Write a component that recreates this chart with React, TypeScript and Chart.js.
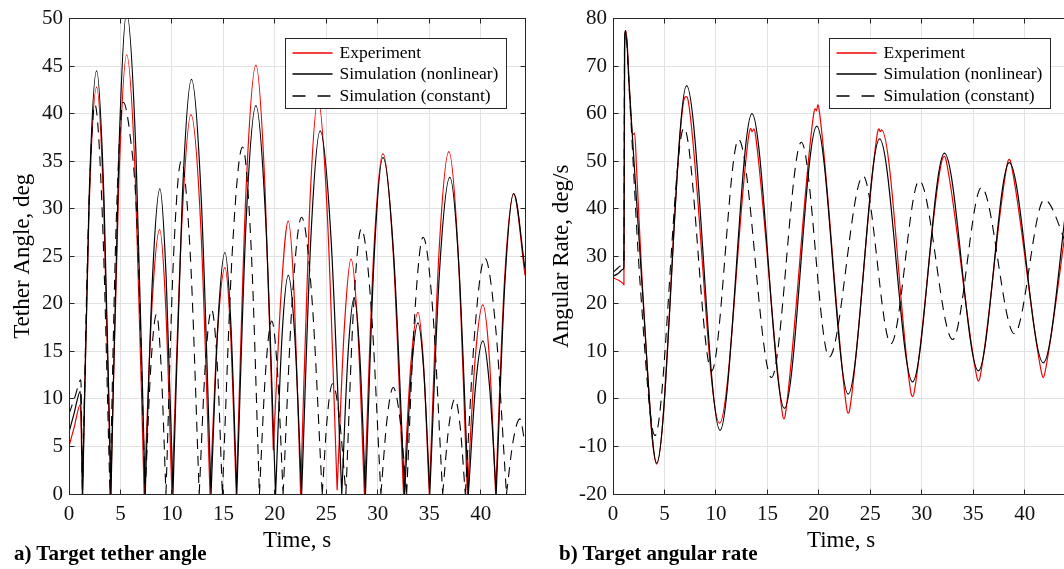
import React, { useEffect, useRef } from "react";
import { Chart, registerables } from "chart.js";

Chart.register(...registerables);

const SERIF = "'Liberation Serif', 'Times New Roman', Times, serif";
const INK = "#262626";
const GRID = "#e2e2e2";
const RED = "#f00000";

// ---------- shared axis ----------
const timeTicks = [0, 5, 10, 15, 20, 25, 30, 35, 40];
const timeMax = 44.3;
const angleTicks = [0, 5, 10, 15, 20, 25, 30, 35, 40, 45, 50];
const rateTicks = [-20, -10, 0, 10, 20, 30, 40, 50, 60, 70, 80];
const seriesLabels = ["Experiment", "Simulation (nonlinear)", "Simulation (constant)"];

// ---------- a) tether angle (null = break between arcs) ----------
const angleExpT = [
  0, 0.5, 1.1, 1.3, 1.3,
  1.3, 1.95, 2.68, 3.38, 4.05, 4.05,
  4.05, 4.85, 5.6, 6.45, 7.3, 7.3,
  7.3, 8.05, 8.8, 9.4, 10.0, 10.0,
  10.0, 10.95, 11.85, 12.8, 13.7, 13.7,
  13.7, 14.42, 15.15, 15.7, 16.25, 16.25,
  16.25, 17.2, 18.16, 19.05, 19.85, 19.85,
  19.85, 20.6, 21.3, 21.9, 22.5, 22.5,
  22.5, 23.35, 24.2, 25.1, 26.05, 26.05,
  26.05, 26.75, 27.4, 28.05, 28.7, 28.7,
  28.7, 29.6, 30.5, 31.5, 32.5, 32.5,
  32.5, 33.2, 33.9, 34.45, 35.0, 35.0,
  35.0, 35.95, 36.9, 37.8, 38.7, 38.7,
  38.7, 39.45, 40.2, 40.85, 41.45, 41.45,
  41.45, 42.3, 43.2, 44.3,
];
const angleExpV = [
  5.0, 7.0, 9.4, 0, null,
  0, 30, 42.8, 30, 0, null,
  0, 33, 46.2, 33, 0, null,
  0, 19.6, 27.8, 19.6, 0, null,
  0, 28.2, 39.9, 28.2, 0, null,
  0, 16.8, 23.8, 16.8, 0, null,
  0, 32, 45.1, 32, 4.6, null,
  4.6, 21, 28.7, 20.3, 0, null,
  0, 29.3, 41.5, 29.3, 0.4, null,
  0.4, 17.5, 24.7, 17.5, 0, null,
  0, 25.3, 35.8, 25.3, 0, null,
  0, 13.5, 19.1, 13.5, 0, null,
  0, 25.5, 36.0, 25.5, 0, null,
  0, 14.1, 19.9, 14.1, 0, null,
  0, 22.3, 31.6, 23.0,
];

const angleNonT = [
  0, 0.5, 1.1, 1.33, 1.33,
  1.33, 1.95, 2.68, 3.4, 4.08, 4.08,
  4.08, 4.85, 5.6, 6.5, 7.4, 7.4,
  7.4, 8.1, 8.83, 9.45, 10.1, 10.1,
  10.1, 11.0, 11.9, 12.85, 13.8, 13.8,
  13.8, 14.47, 15.15, 15.72, 16.3, 16.3,
  16.3, 17.22, 18.16, 19.1, 20.07, 20.07,
  20.07, 20.68, 21.3, 21.95, 22.6, 22.6,
  22.6, 23.5, 24.4, 25.45, 26.5, 26.5,
  26.5, 27.1, 27.7, 28.25, 28.8, 28.8,
  28.8, 29.65, 30.5, 31.55, 32.6, 32.6,
  32.6, 33.25, 33.9, 34.48, 35.05, 35.05,
  35.05, 36.0, 37.0, 37.9, 38.8, 38.8,
  38.8, 39.5, 40.2, 40.85, 41.5, 41.5,
  41.5, 42.35, 43.2, 44.3,
];
const angleNonV = [
  6.5, 8.5, 10.8, 0, null,
  0, 31, 44.5, 31, 0, null,
  0, 36, 50.6, 36, 0, null,
  0, 22.5, 32.1, 22.5, 0, null,
  0, 31, 43.6, 31, 0, null,
  0, 18, 25.4, 18, 0, null,
  0, 29, 40.85, 29, 0, null,
  0, 16.3, 23.0, 16.3, 0, null,
  0, 27, 38.2, 27, 0, null,
  0, 14.6, 20.6, 14.6, 0, null,
  0, 25, 35.4, 25, 0, null,
  0, 12.7, 18.0, 12.7, 0, null,
  0, 23.5, 33.3, 23.5, 0, null,
  0, 11.4, 16.1, 11.4, 0, null,
  0, 22.3, 31.6, 23.7,
];

const angleConT = [
  0, 0.6, 1.15, 1.3, 1.3,
  1.3, 1.9, 2.52, 3.25, 3.98, 3.98,
  3.98, 4.6, 5.27, 5.9, 6.57, 7.4, 7.4,
  7.4, 7.95, 8.5, 8.95, 9.42, 9.42,
  9.42, 10.15, 10.9, 11.8, 12.65, 12.65,
  12.65, 13.25, 13.85, 14.4, 14.9, 14.9,
  14.9, 15.88, 16.86, 17.7, 18.5, 18.5,
  18.5, 19.1, 19.7, 20.25, 20.8, 20.8,
  20.8, 21.7, 22.6, 23.6, 24.6, 24.6,
  24.6, 25.1, 25.6, 26.25, 26.9, 26.9,
  26.9, 27.65, 28.4, 29.35, 30.3, 30.3,
  30.3, 30.9, 31.5, 32.15, 32.8, 32.8,
  32.8, 33.6, 34.4, 35.35, 36.3, 36.3,
  36.3, 36.9, 37.5, 38.0, 38.5, 38.5,
  38.5, 39.45, 40.4, 41.45, 42.5, 42.5,
  42.5, 43.15, 43.8, 44.3,
];
const angleConV = [
  8.4, 10.3, 12.0, 0, null,
  0, 29, 40.95, 29, 0, null,
  0, 29, 41.2, 38, 29.3, 0, null,
  0, 13.4, 18.9, 13.4, 0, null,
  0, 24.8, 35.0, 24.8, 0, null,
  0, 13.7, 19.4, 13.7, 0, null,
  0, 25.8, 36.5, 25.8, 0, null,
  0, 12.9, 18.2, 12.9, 0, null,
  0, 20.6, 29.1, 20.6, 0, null,
  0, 8.2, 11.6, 8.2, 0, null,
  0, 19.7, 27.9, 19.7, 0, null,
  0, 7.9, 11.2, 7.9, 0, null,
  0, 19.1, 27.0, 19.1, 0, null,
  0, 7.1, 10.0, 7.1, 0, null,
  0, 17.5, 24.8, 17.5, 0, null,
  0, 5.6, 7.9, 5.3,
];

// ---------- b) angular rate ----------
const rateExpT = [
  0, 0.5, 1.0, 1.06, 1.14, 1.28, 1.6, 1.92, 2.1, 2.3, 2.85, 4.24,
  6.9, 7.1, 7.3, 10.35,
  13.2, 13.38, 13.5, 13.7, 13.85, 16.45, 16.6, 16.75,
  19.5, 19.65, 19.78, 19.9, 20.05, 22.7, 22.85, 23.0,
  25.7, 25.85, 25.95, 26.1, 28.95, 29.1, 29.25,
  32.0, 32.2, 32.35, 35.35, 35.5, 35.65,
  38.35, 38.5, 38.65, 41.65, 41.8, 41.95, 44.3,
];
const rateExpV = [
  25.5, 25.0, 24.2, 24.0, 74, 77.3, 65, 55.6, 55.9, 48, 24, -13.7,
  63.0, 63.6, 62.8, -5.1,
  55.6, 56.9, 56.2, 56.8, 55.4, -3.0, -4.2, -3.2,
  60.0, 61.0, 60.6, 61.9, 60.5, -2.0, -3.0, -2.2,
  56.1, 56.8, 56.2, 56.6, 1.2, 0.5, 1.3,
  50.5, 51.0, 50.3, 4.6, 3.8, 4.5,
  49.9, 50.4, 49.7, 5.3, 4.5, 5.4, 41,
];

const rateNonT = [0, 0.5, 1.0, 1.06, 1.12, 1.22, 1.6, 2.8, 4.24, 7.15, 10.4, 13.5, 16.65, 19.8, 22.85, 25.9, 29.1, 32.2, 35.5, 38.5, 41.8, 44.3];
const rateNonV = [25.8, 26.4, 27.3, 27.8, 74, 77.5, 65, 24.7, -13.5, 65.9, -6.6, 60.0, -2.0, 57.4, 1.0, 54.7, 3.6, 51.7, 5.9, 49.7, 7.6, 45];

const rateConT = [0, 0.5, 1.0, 1.06, 1.12, 1.22, 1.6, 2.62, 4.08, 6.9, 9.58, 12.2, 15.4, 18.3, 21.0, 24.3, 27.0, 29.75, 33.0, 35.8, 39.0, 41.9, 43.7, 44.3];
const rateConV = [26.6, 27.6, 28.3, 28.5, 74, 77.5, 64, 24.7, -7.7, 57.0, 5.9, 54.6, 4.5, 54.0, 8.8, 46.9, 11.6, 45.9, 12.5, 44.5, 13.7, 41.9, 34.4, 30];

// ---------- styles ----------
const seriesStyles = [
  { color: RED, width: 1.2, dash: [] as number[] },
  { color: "#000000", width: 1.2, dash: [] as number[] },
  { color: "#000000", width: 1.1, dash: [10, 7] },
];

const toPoints = (t: number[], v: (number | null)[]) => t.map((x, i) => ({ x, y: v[i] }));

const alignPx = (p: number) => Math.round(p - 0.5) + 0.5;

const boxPlugin = {
  id: "matlabBox",
  afterDatasetsDraw(chart: any, _args: any, opts: any) {
    const { ctx, chartArea: a, scales } = chart;
    const L = alignPx(a.left);
    const R = alignPx(a.right);
    const T = alignPx(a.top);
    const B = alignPx(a.bottom);
    ctx.save();
    ctx.setLineDash([]);
    ctx.strokeStyle = INK;
    ctx.lineWidth = 1;
    ctx.strokeRect(L, T, R - L, B - T);
    const tl = 5;
    ctx.beginPath();
    scales.x.ticks.forEach((tk: any) => {
      const x = alignPx(scales.x.getPixelForValue(tk.value));
      ctx.moveTo(x, B);
      ctx.lineTo(x, B - tl);
      ctx.moveTo(x, T);
      ctx.lineTo(x, T + tl);
    });
    scales.y.ticks.forEach((tk: any) => {
      const y = alignPx(scales.y.getPixelForValue(tk.value));
      ctx.moveTo(L, y);
      ctx.lineTo(L + tl, y);
      ctx.moveTo(R, y);
      ctx.lineTo(R - tl, y);
    });
    ctx.stroke();

    // legend box (inside the axes, north-east)
    const bx = Math.round(a.left + opts.legendX) + 0.5;
    const by = Math.round(a.top + opts.legendY) + 0.5;
    const bw = opts.legendW;
    const bh = opts.legendH;
    ctx.fillStyle = "#ffffff";
    ctx.fillRect(bx, by, bw, bh);
    ctx.strokeStyle = INK;
    ctx.lineWidth = 1;
    ctx.strokeRect(bx, by, bw, bh);
    ctx.font = `17.5px ${SERIF}`;
    ctx.textBaseline = "middle";
    ctx.textAlign = "left";
    const rows = [14, 35.5, 57];
    seriesLabels.forEach((label, i) => {
      const st = seriesStyles[i];
      const y = Math.round(by + rows[i]);
      ctx.save();
      ctx.strokeStyle = st.color;
      ctx.lineWidth = 1.4;
      ctx.setLineDash(i === 2 ? [13, 12] : []);
      ctx.beginPath();
      ctx.moveTo(bx + 7, y);
      ctx.lineTo(bx + 47, y);
      ctx.stroke();
      ctx.restore();
      ctx.fillStyle = "#000000";
      ctx.fillText(label, bx + 54, y + 0.5);
    });
    ctx.restore();
  },
};

type PanelSpec = {
  left: number;
  width: number;
  yAxisWidth: number;
  padRight: number;
  yMin: number;
  yMax: number;
  yTicks: number[];
  yTitle: string;
  yTitlePad: number;
  series: { t: number[]; v: (number | null)[] }[];
};

function buildConfig(p: PanelSpec): any {
  const tickFont = { family: SERIF, size: 21 };
  const titleFont = { family: SERIF, size: 23 };
  const datasets = [2, 1, 0].map((i) => ({
    label: seriesLabels[i],
    data: toPoints(p.series[i].t, p.series[i].v),
    borderColor: seriesStyles[i].color,
    borderWidth: seriesStyles[i].width,
    borderDash: seriesStyles[i].dash,
    pointRadius: 0,
    fill: false,
    spanGaps: false,
    cubicInterpolationMode: "monotone",
  }));
  return {
    type: "line",
    data: { datasets },
    options: {
      animation: false,
      responsive: false,
      maintainAspectRatio: false,
      devicePixelRatio: 1,
      events: [],
      layout: { padding: { left: 0, right: p.padRight, top: 15, bottom: 0 } },
      plugins: {
        legend: { display: false },
        tooltip: { enabled: false },
        matlabBox: { legendX: 216, legendY: 19, legendW: 221, legendH: 70 },
      },
      scales: {
        x: {
          type: "linear",
          min: 0,
          max: timeMax,
          afterBuildTicks: (s: any) => {
            s.ticks = timeTicks.map((value) => ({ value }));
          },
          afterFit: (s: any) => {
            s.height = 75;
          },
          grid: { color: GRID, lineWidth: 1, drawTicks: false },
          border: { display: false },
          ticks: {
            padding: 8,
            font: tickFont,
            color: "#111111",
            maxRotation: 0,
            autoSkip: false,
            callback: (v: any) => String(v),
          },
          title: {
            display: true,
            text: "Time, s",
            font: titleFont,
            color: "#000000",
            padding: { top: 0, bottom: 14 },
          },
        },
        y: {
          type: "linear",
          min: p.yMin,
          max: p.yMax,
          afterBuildTicks: (s: any) => {
            s.ticks = p.yTicks.map((value) => ({ value }));
          },
          afterFit: (s: any) => {
            s.width = p.yAxisWidth;
          },
          grid: { color: GRID, lineWidth: 1, drawTicks: false },
          border: { display: false },
          ticks: {
            padding: 6,
            font: tickFont,
            color: "#111111",
            autoSkip: false,
            callback: (v: any) => String(v),
          },
          title: {
            display: true,
            text: p.yTitle,
            font: titleFont,
            color: "#000000",
            padding: { top: p.yTitlePad, bottom: 0 },
          },
        },
      },
    },
    plugins: [boxPlugin],
  };
}

function PanelChart({ spec }: { spec: PanelSpec }) {
  const ref = useRef<HTMLCanvasElement | null>(null);
  useEffect(() => {
    if (!ref.current) return;
    const chart = new Chart(ref.current, buildConfig(spec));
    return () => chart.destroy();
  }, [spec]);
  return (
    <canvas
      ref={ref}
      width={spec.width}
      height={569}
      style={{ position: "absolute", left: spec.left, top: 0, width: spec.width, height: 569 }}
    />
  );
}

const anglePanel: PanelSpec = {
  left: 0,
  width: 545,
  yAxisWidth: 69,
  padRight: 20,
  yMin: 0,
  yMax: 50,
  yTicks: angleTicks,
  yTitle: "Tether Angle, deg",
  yTitlePad: 9,
  series: [
    { t: angleExpT, v: angleExpV },
    { t: angleNonT, v: angleNonV },
    { t: angleConT, v: angleConV },
  ],
};

const ratePanel: PanelSpec = {
  left: 545,
  width: 530,
  yAxisWidth: 68,
  padRight: 6,
  yMin: -20,
  yMax: 80,
  yTicks: rateTicks,
  yTitle: "Angular Rate, deg/s",
  yTitlePad: 3,
  series: [
    { t: rateExpT, v: rateExpV },
    { t: rateNonT, v: rateNonV },
    { t: rateConT, v: rateConV },
  ],
};

const captionStyle: React.CSSProperties = {
  position: "absolute",
  top: 543,
  fontFamily: SERIF,
  fontWeight: "bold",
  fontSize: 21,
  lineHeight: "21px",
  color: "#000",
  whiteSpace: "nowrap",
};

export default function App() {
  return (
    <div
      style={{
        position: "absolute",
        left: 0,
        top: 0,
        width: 1064,
        height: 569,
        overflow: "hidden",
        background: "#ffffff",
      }}
    >
      <PanelChart spec={anglePanel} />
      <PanelChart spec={ratePanel} />
      <div style={{ ...captionStyle, left: 14 }}>a) Target tether angle</div>
      <div style={{ ...captionStyle, left: 559 }}>b) Target angular rate</div>
    </div>
  );
}
